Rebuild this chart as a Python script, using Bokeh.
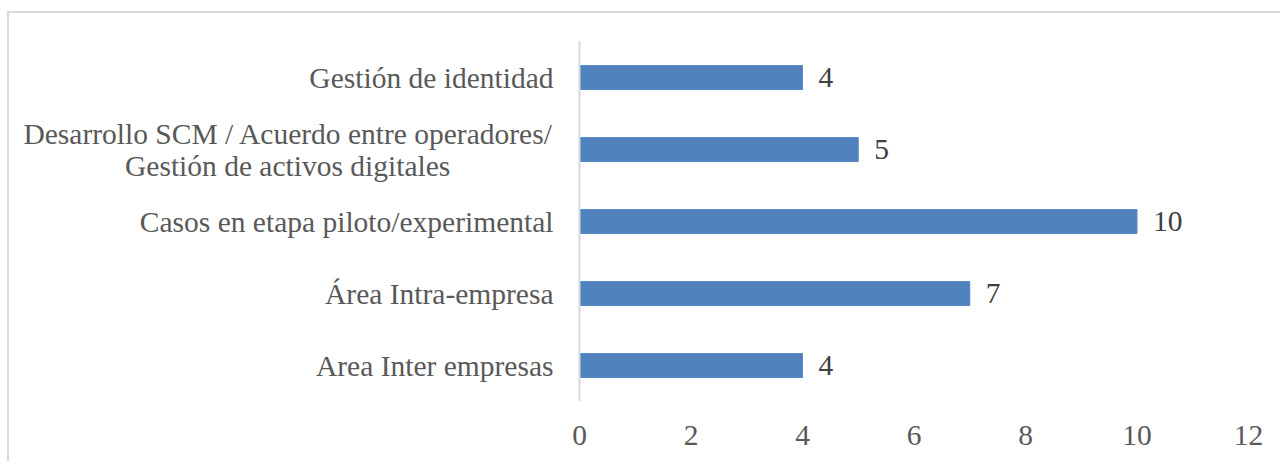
from bokeh.plotting import figure
from bokeh.models import ColumnDataSource, LabelSet, FixedTicker
from bokeh.embed import file_html
from bokeh.resources import INLINE

# second line of the two-line label is padded with no-break spaces so that,
# right-aligned, it appears centred under the first line (as in the original)
NBSP_PAD = "\u00a0" * 14

categories = [
    "Area Inter empresas",
    "Área Intra-empresa",
    "Casos en etapa piloto/experimental",
    "Desarrollo SCM / Acuerdo entre operadores/\nGestión de activos digitales" + NBSP_PAD,
    "Gestión de identidad",
]
values = [4, 7, 10, 5, 4]
x_ticks = [0, 2, 4, 6, 8, 10, 12]

src = ColumnDataSource(dict(cat=categories, val=values, lab=[str(v) for v in values]))

p = figure(y_range=categories, x_range=(0, 12), width=1280, height=461,
           output_backend="svg", toolbar_location=None)
p.min_border_left = 579
p.min_border_right = 32
p.min_border_top = 41
p.min_border_bottom = 60
p.outline_line_color = None
p.background_fill_color = "white"
p.border_fill_color = None
p.styles = {
    "background-color": "white",
    "background-image": "linear-gradient(#d9d9d9,#d9d9d9), linear-gradient(#d9d9d9,#d9d9d9)",
    "background-size": "2px 460px, 1280px 2px",
    "background-position": "7px 11px, 7px 11px",
    "background-repeat": "no-repeat",
}

p.hbar(y="cat", right="val", left=0, height=0.333, source=src,
       fill_color="#4f81bd", line_color="#5a8ac6", line_width=1)

FONT = "Liberation Serif"
FS = "29.5px"

labels = LabelSet(x="val", y="cat", text="lab", source=src, x_offset=16,
                  text_baseline="middle", text_align="left",
                  text_font=FONT, text_font_size=FS, text_color="#404040")
p.add_layout(labels)

p.xgrid.visible = False
p.ygrid.visible = False

xa = p.xaxis[0]
xa.ticker = FixedTicker(ticks=x_ticks)
xa.axis_line_color = None
xa.major_tick_line_color = None
xa.minor_tick_line_color = None
xa.major_label_text_font = FONT
xa.major_label_text_font_size = FS
xa.major_label_text_color = "#595959"
xa.major_label_standoff = 18

ya = p.yaxis[0]
ya.axis_line_color = "#d9d9d9"
ya.axis_line_width = 2
ya.major_tick_line_color = None
ya.minor_tick_line_color = None
ya.major_label_text_font = FONT
ya.major_label_text_font_size = FS
ya.major_label_text_color = "#595959"
ya.major_label_standoff = 20
ya.major_label_text_line_height = 1.0

open("out.html", "w").write(file_html(p, INLINE))
